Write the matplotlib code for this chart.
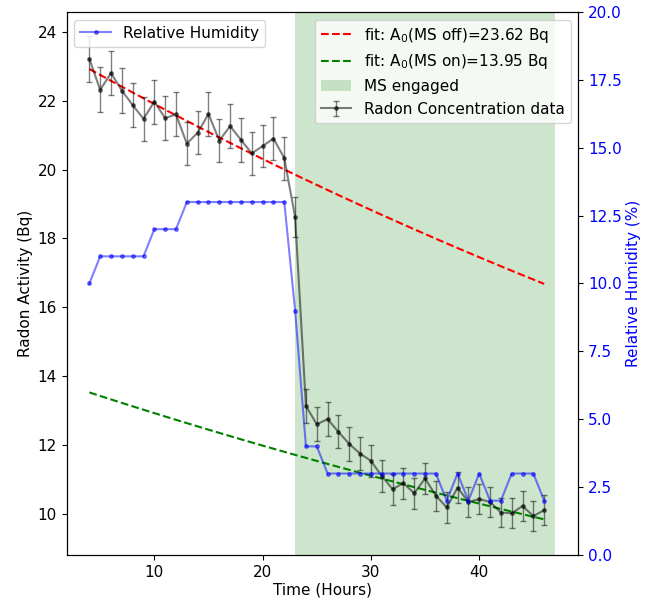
import numpy as np
import matplotlib
matplotlib.use("Agg")
import matplotlib.pyplot as plt

# hourly readings
hours = [4, 5, 6, 7, 8, 9, 10, 11, 12, 13, 14, 15, 16, 17, 18, 19, 20, 21, 22, 23,
         24, 25, 26, 27, 28, 29, 30, 31, 32, 33, 34, 35, 36, 37, 38, 39, 40, 41,
         42, 43, 44, 45, 46]
radon = [23.21, 22.31, 22.80, 22.29, 21.87, 21.47, 21.97, 21.49, 21.60, 20.75,
         21.07, 21.61, 20.84, 21.26, 20.86, 20.47, 20.68, 20.90, 20.33, 18.62,
         13.14, 12.61, 12.76, 12.39, 12.04, 11.76, 11.55, 11.11, 10.73, 10.90,
         10.61, 11.04, 10.54, 10.20, 10.77, 10.36, 10.44, 10.36, 10.05, 10.03,
         10.24, 9.95, 10.12]
radon_err = [0.66, 0.65, 0.65, 0.65, 0.64, 0.63, 0.64, 0.63, 0.64, 0.62,
             0.63, 0.64, 0.63, 0.63, 0.63, 0.62, 0.62, 0.63, 0.62, 0.59,
             0.50, 0.49, 0.49, 0.48, 0.48, 0.47, 0.47, 0.46, 0.45, 0.45,
             0.45, 0.46, 0.44, 0.44, 0.45, 0.44, 0.44, 0.44, 0.43, 0.43,
             0.44, 0.43, 0.44]
humidity = [10, 11, 11, 11, 11, 11, 12, 12, 12, 13, 13, 13, 13, 13, 13, 13, 13, 13, 13,
            9, 4, 4, 3, 3, 3, 3, 3, 3, 3, 3, 3, 3, 3, 2, 3, 2, 3, 2, 2, 3, 3, 3, 2]

# fit results (radon decay, half life 3.82 days)
A0_off = 23.62
A0_on = 13.95
half_life_h = 91.7
ms_start = 23.0
ms_end = 47.0

plt.rcParams['font.size'] = 11

fig = plt.figure(figsize=(6.46, 5.99), dpi=100)
ax1 = fig.add_axes([0.1033, 0.0735, 0.7919, 0.9065])

t = np.array(hours, dtype=float)
lam = np.log(2) / half_life_h
l_off, = ax1.plot(t, A0_off * np.exp(-lam * t), 'r--', label='fit: A$_0$(MS off)=%.2f Bq' % A0_off)
l_on, = ax1.plot(t, A0_on * np.exp(-lam * t), 'g--', label='fit: A$_0$(MS on)=%.2f Bq' % A0_on)
span = ax1.axvspan(ms_start, ms_end, color='green', alpha=0.2, lw=0, label='MS engaged')
eb = ax1.errorbar(hours, radon, yerr=radon_err, fmt='k.-', alpha=0.5, capsize=2,
                  elinewidth=1, markersize=5, label='Radon Concentration data')

ax1.set_xlim(1.91, 49.15)
ax1.set_ylim(8.82, 24.57)
ax1.set_xlabel('Time (Hours)', labelpad=2)
ax1.set_ylabel('Radon Activity (Bq)', labelpad=3)
ax1.legend(handles=[l_off, l_on, span, eb], loc='upper right')

ax2 = ax1.twinx()
ax2.plot(hours, humidity, 'b.-', alpha=0.5, markersize=5, label='Relative Humidity')
ax2.set_ylim(0, 20)
ax2.set_yticks([0, 2.5, 5, 7.5, 10, 12.5, 15, 17.5, 20])
ax2.tick_params(axis='y', labelcolor='b')
ax2.set_ylabel('Relative Humidity (%)', color='b', labelpad=3)
ax2.legend(loc='upper left')

fig.savefig('out.png', dpi=100)
